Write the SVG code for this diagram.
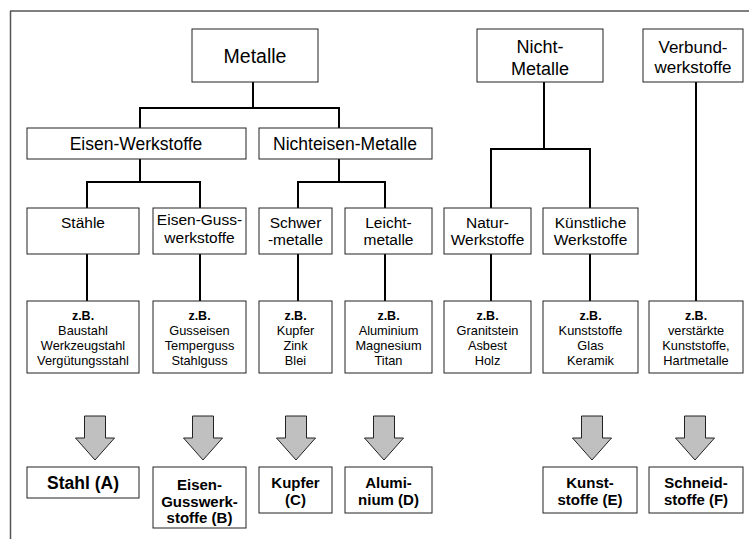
<svg xmlns="http://www.w3.org/2000/svg" width="749" height="539" viewBox="0 0 749 539">
<style>
text{font-family:"Liberation Sans",Arial,sans-serif;fill:#000;text-anchor:middle}
.box{fill:#fff;stroke:#222;stroke-width:1}
.t1{font-size:19.5px}
.t1b{font-size:18px}
.t2{font-size:17.5px}
.t2b{font-size:17px}
.t3{font-size:15.5px}
.t4{font-size:12.8px}
.zb{font-size:12.5px;font-weight:bold}
.t5{font-size:15px;font-weight:bold}
.t6{font-size:17.5px;font-weight:bold}
.con{fill:none;stroke:#000;stroke-width:2}
.arr{fill:#c0c0c0;stroke:#222;stroke-width:1}
</style>
<rect width="749" height="539" fill="#fff"/>
<line x1="10" y1="11" x2="749" y2="11" stroke="#000" stroke-width="1"/>
<line x1="10.5" y1="11" x2="10.5" y2="539" stroke="#555" stroke-width="1.5"/>
<g id="connectors" class="con">
<path d="M253 82V108M140 128V108H339V128"/>
<path d="M140 159V182M87 208V182H200V208"/>
<path d="M339 159V182M298 208V182H385V208"/>
<path d="M544 82V149M491 208V149H590V208"/>
<path d="M696 82V301"/>
<path d="M87 254V301M200 254V301M298 254V301M385 254V301M491 254V301M590 254V301"/>
</g>
<g id="metalle"><rect class="box" x="192" y="29" width="126" height="53"/><text class="t1" x="255" y="63">Metalle</text></g>
<g id="nichtmetalle"><rect class="box" x="477" y="29" width="126" height="53"/><text class="t1b" x="540" y="53">Nicht-</text><text class="t1b" x="540" y="75">Metalle</text></g>
<g id="verbund"><rect class="box" x="643" y="29" width="100" height="53"/><text class="t2b" x="693" y="53">Verbund-</text><text class="t2b" x="693" y="73">werkstoffe</text></g>
<g id="eisenwerkstoffe"><rect class="box" x="27" y="128" width="219" height="31"/><text class="t2" x="136" y="150">Eisen-Werkstoffe</text></g>
<g id="nichteisen"><rect class="box" x="259" y="128" width="173" height="31"/><text class="t2" x="345" y="150">Nichteisen-Metalle</text></g>
<g id="staehle"><rect class="box" x="27" y="208" width="112" height="46"/><text class="t3" x="83" y="228">Stähle</text></g>
<g id="eisenguss"><rect class="box" x="153" y="208" width="93" height="46"/><text class="t3" x="199.5" y="225">Eisen-Guss-</text><text class="t3" x="199.5" y="243">werkstoffe</text></g>
<g id="schwer"><rect class="box" x="259" y="208" width="73" height="46"/><text class="t3" x="295.5" y="228">Schwer</text><text class="t3" x="295.5" y="245">-metalle</text></g>
<g id="leicht"><rect class="box" x="345" y="208" width="87" height="46"/><text class="t3" x="388.5" y="228">Leicht-</text><text class="t3" x="388.5" y="245">metalle</text></g>
<g id="natur"><rect class="box" x="444" y="208" width="87" height="46"/><text class="t3" x="487.5" y="228">Natur-</text><text class="t3" x="487.5" y="245">Werkstoffe</text></g>
<g id="kuenstlich"><rect class="box" x="543" y="208" width="95" height="46"/><text class="t3" x="590.5" y="228">Künstliche</text><text class="t3" x="590.5" y="245">Werkstoffe</text></g>
<g id="ex-staehle"><rect class="box" x="27" y="301" width="112" height="72"/><text class="zb" x="83" y="319.5">z.B.</text><text class="t4" x="83" y="334.5">Baustahl</text><text class="t4" x="83" y="349.5">Werkzeugstahl</text><text class="t4" x="83" y="364.5">Vergütungsstahl</text></g>
<g id="ex-eisenguss"><rect class="box" x="153" y="301" width="93" height="72"/><text class="zb" x="199.5" y="319.5">z.B.</text><text class="t4" x="199.5" y="334.5">Gusseisen</text><text class="t4" x="199.5" y="349.5">Temperguss</text><text class="t4" x="199.5" y="364.5">Stahlguss</text></g>
<g id="ex-schwer"><rect class="box" x="259" y="301" width="73" height="72"/><text class="zb" x="295.5" y="319.5">z.B.</text><text class="t4" x="295.5" y="334.5">Kupfer</text><text class="t4" x="295.5" y="349.5">Zink</text><text class="t4" x="295.5" y="364.5">Blei</text></g>
<g id="ex-leicht"><rect class="box" x="345" y="301" width="87" height="72"/><text class="zb" x="388.5" y="319.5">z.B.</text><text class="t4" x="388.5" y="334.5">Aluminium</text><text class="t4" x="388.5" y="349.5">Magnesium</text><text class="t4" x="388.5" y="364.5">Titan</text></g>
<g id="ex-natur"><rect class="box" x="444" y="301" width="87" height="72"/><text class="zb" x="487.5" y="319.5">z.B.</text><text class="t4" x="487.5" y="334.5">Granitstein</text><text class="t4" x="487.5" y="349.5">Asbest</text><text class="t4" x="487.5" y="364.5">Holz</text></g>
<g id="ex-kuenstlich"><rect class="box" x="543" y="301" width="95" height="72"/><text class="zb" x="590.5" y="319.5">z.B.</text><text class="t4" x="590.5" y="334.5">Kunststoffe</text><text class="t4" x="590.5" y="349.5">Glas</text><text class="t4" x="590.5" y="364.5">Keramik</text></g>
<g id="ex-verbund"><rect class="box" x="649" y="301" width="94" height="72"/><text class="zb" x="696" y="319.5">z.B.</text><text class="t4" x="696" y="334.5">verstärkte</text><text class="t4" x="696" y="349.5">Kunststoffe,</text><text class="t4" x="696" y="364.5">Hartmetalle</text></g>
<g id="arrows">
<polygon class="arr" points="84.5,416 105.5,416 105.5,438 114.5,438 95,460 75.5,438 84.5,438"/>
<polygon class="arr" points="192.5,416 213.5,416 213.5,438 222.5,438 203,460 183.5,438 192.5,438"/>
<polygon class="arr" points="285.5,416 306.5,416 306.5,438 315.5,438 296,460 276.5,438 285.5,438"/>
<polygon class="arr" points="373.5,416 394.5,416 394.5,438 403.5,438 384,460 364.5,438 373.5,438"/>
<polygon class="arr" points="581.5,416 602.5,416 602.5,438 611.5,438 592,460 572.5,438 581.5,438"/>
<polygon class="arr" points="684.5,416 705.5,416 705.5,438 714.5,438 695,460 675.5,438 684.5,438"/>
</g>
<g id="stahl-a"><rect class="box" x="27" y="467" width="112" height="31"/><text class="t6" x="83" y="489">Stahl (A)</text></g>
<g id="eisenguss-b"><rect class="box" x="153" y="467" width="93" height="61"/><text class="t5" x="199.5" y="490">Eisen-</text><text class="t5" x="199.5" y="507">Gusswerk-</text><text class="t5" x="199.5" y="523">stoffe (B)</text></g>
<g id="kupfer-c"><rect class="box" x="259" y="467" width="73" height="46"/><text class="t5" x="295.5" y="488">Kupfer</text><text class="t5" x="295.5" y="505">(C)</text></g>
<g id="aluminium-d"><rect class="box" x="345" y="467" width="87" height="46"/><text class="t5" x="388.5" y="488">Alumi-</text><text class="t5" x="388.5" y="505">nium (D)</text></g>
<g id="kunststoffe-e"><rect class="box" x="543" y="467" width="94" height="46"/><text class="t5" x="590" y="488">Kunst-</text><text class="t5" x="590" y="505">stoffe (E)</text></g>
<g id="schneid-f"><rect class="box" x="649" y="467" width="94" height="46"/><text class="t5" x="696" y="488">Schneid-</text><text class="t5" x="696" y="505">stoffe (F)</text></g>
</svg>
